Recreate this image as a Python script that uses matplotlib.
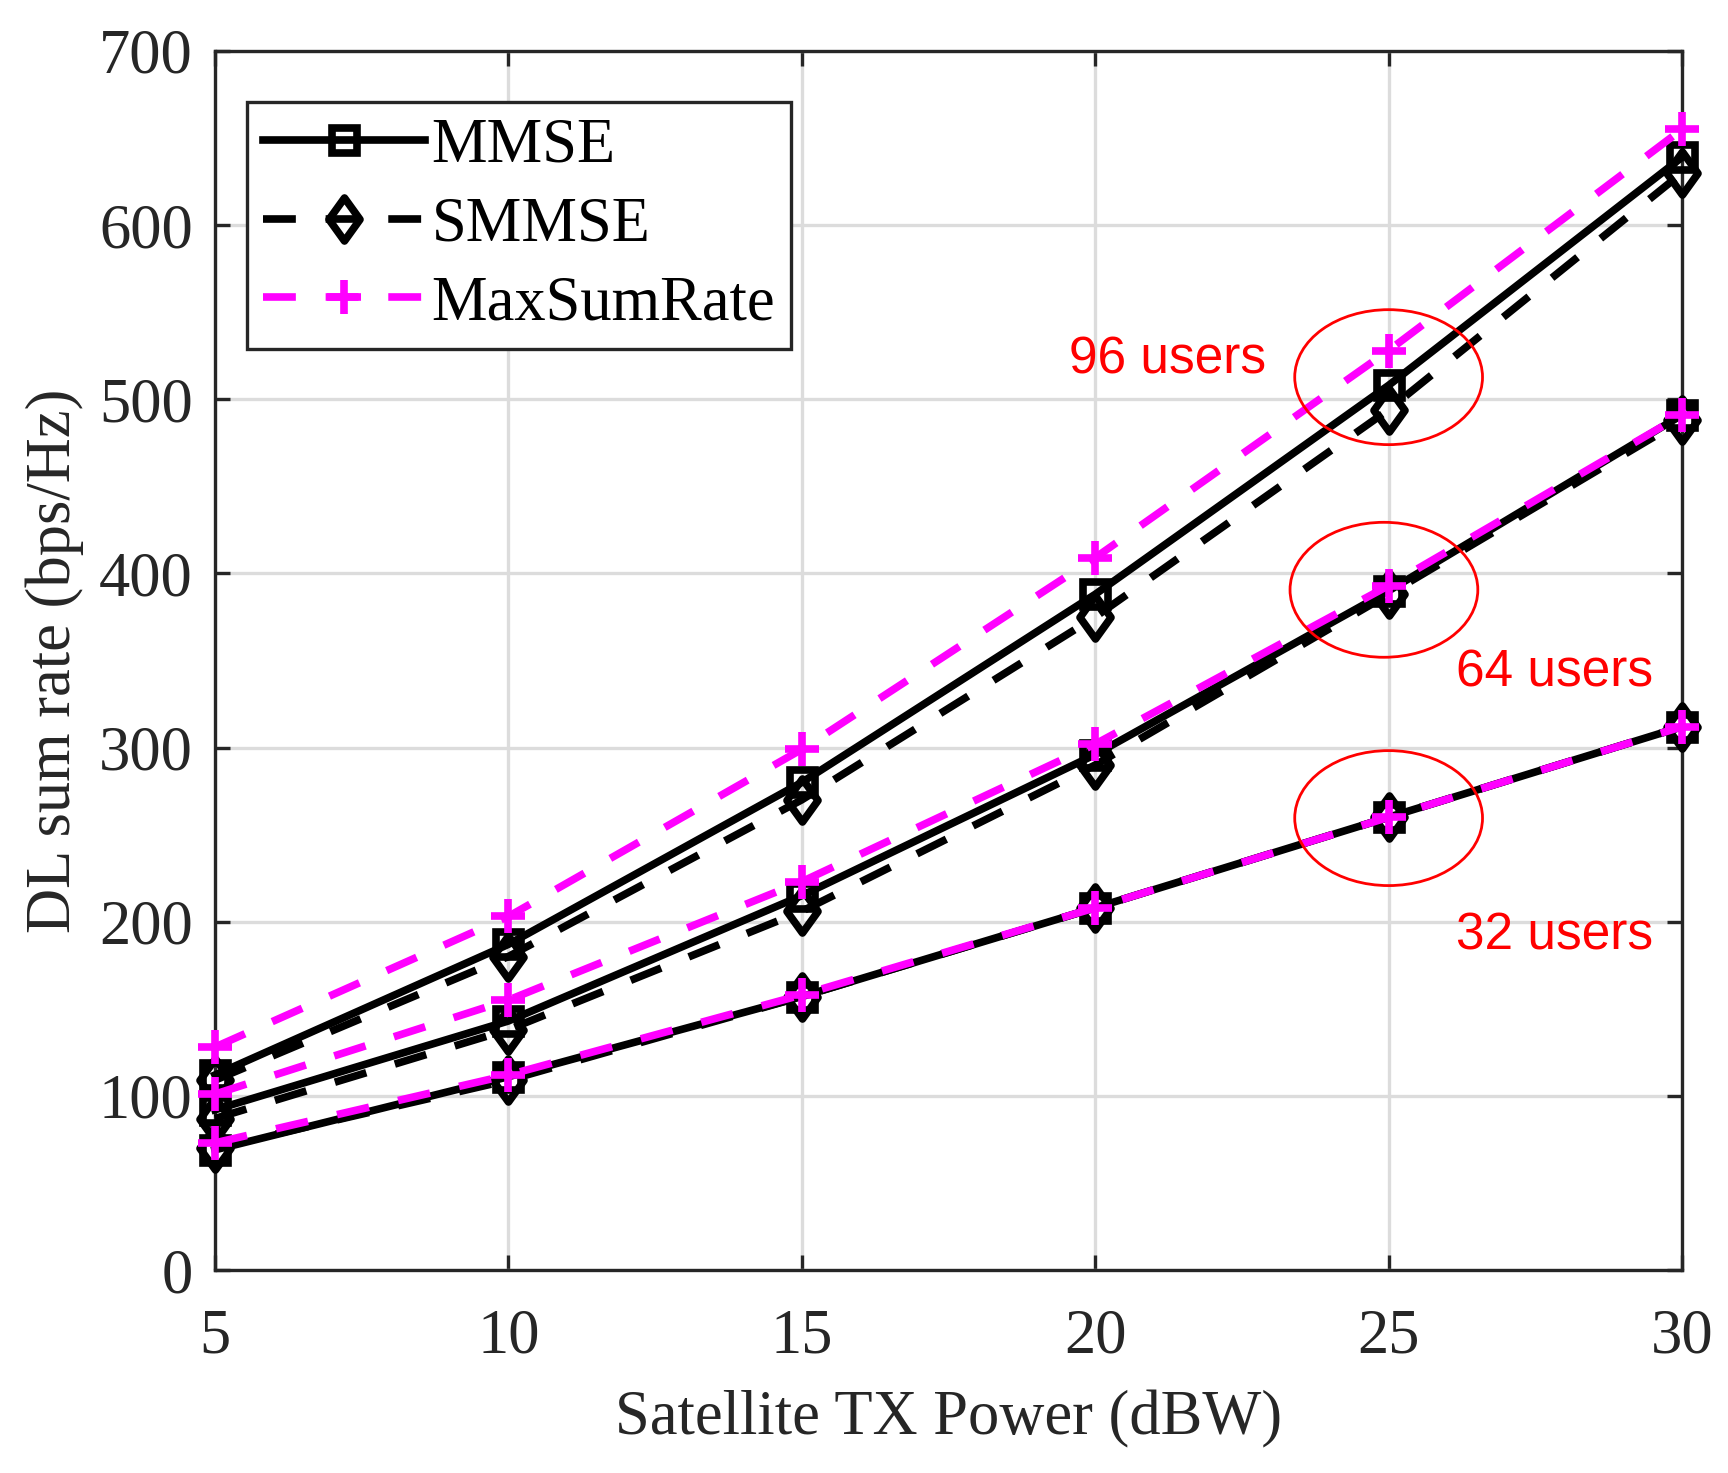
import numpy as np
import matplotlib
matplotlib.use('Agg')
import matplotlib.pyplot as plt
from matplotlib.patches import Ellipse
from matplotlib.path import Path

# Données
tx_power = [5, 10, 15, 20, 25, 30]

mmse_96 = [112, 187, 280, 388, 508, 639]
smmse_96 = [109, 180, 270, 375, 494, 630]
msr_96 = [128, 203, 299, 409, 528, 655]

mmse_64 = [92, 143, 215, 296, 390, 491]
smmse_64 = [87, 138, 206, 290, 388, 488]
msr_64 = [101, 155, 223, 302, 393, 491]

mmse_32 = [69, 111, 157, 208, 260, 312]
smmse_32 = [70, 109, 157, 208, 260, 312]
msr_32 = [73, 112, 158, 208, 260, 312]

legend_labels = ['MMSE', 'SMMSE', 'MaxSumRate']
user_labels = ['96 users', '64 users', '32 users']

SERIF = ['Liberation Serif', 'DejaVu Serif']
SANS = ['Liberation Sans', 'DejaVu Sans']
plt.rcParams['font.family'] = SERIF
plt.rcParams['lines.scale_dashes'] = True

LW = 5.5
MAGENTA = '#ff00ff'
AXCOL = '#262626'
diamond = Path([(0, 1), (0.72, 0), (0, -1), (-0.72, 0), (0, 1)],
               [Path.MOVETO, Path.LINETO, Path.LINETO, Path.LINETO, Path.CLOSEPOLY])
DASH = (4.3, 3.9)

fig = plt.figure(figsize=(17.28, 14.73), dpi=100)
ax = fig.add_axes([0.1244, 0.1378, 0.849, 0.8276])

groups = [(mmse_96, smmse_96, msr_96),
          (mmse_64, smmse_64, msr_64),
          (mmse_32, smmse_32, msr_32)]

for i, (mm, sm, ms) in enumerate(groups):
    ax.plot(tx_power, mm, color='k', lw=LW, marker='s', ms=18, mfc='none',
            mec='k', mew=LW, clip_on=False, zorder=3,
            label=legend_labels[0] if i == 0 else None)
    ax.plot(tx_power, sm, color='k', lw=LW, dashes=DASH, marker=diamond, ms=31,
            mfc='none', mec='k', mew=LW, clip_on=False, zorder=3,
            label=legend_labels[1] if i == 0 else None)
    ax.plot(tx_power, ms, color=MAGENTA, lw=LW, dashes=DASH, marker='+', ms=24,
            mec=MAGENTA, mew=LW, clip_on=False, zorder=4,
            label=legend_labels[2] if i == 0 else None)

# Ellipses rouges autour des points à 25 dBW
for (cx, cy) in [(25.0, 512.7), (24.92, 390.6), (25.0, 259.5)]:
    ax.add_patch(Ellipse((cx, cy), 3.2, 77.5, fill=False, ec='red', lw=2.0, zorder=5))

# Annotations
ax.text(19.56, 514.6, user_labels[0], color='red', fontsize=37, family=SANS,
        ha='left', va='baseline', zorder=6)
ax.text(26.15, 335, user_labels[1], color='red', fontsize=37, family=SANS,
        ha='left', va='baseline', zorder=6)
ax.text(26.15, 183.8, user_labels[2], color='red', fontsize=37, family=SANS,
        ha='left', va='baseline', zorder=6)

ax.set_xlim(5, 30)
ax.set_ylim(0, 700)
ax.set_xticks(tx_power)
ax.set_yticks(np.arange(0, 701, 100))
ax.grid(True, color='#dcdcdc', lw=2.4)
ax.set_axisbelow(True)

for sp in ax.spines.values():
    sp.set_color(AXCOL)
    sp.set_linewidth(2.4)
ax.tick_params(axis='both', direction='in', length=11, width=2.4, color=AXCOL,
               top=True, right=True, labelsize=45, labelcolor=AXCOL)
ax.tick_params(axis='x', pad=28)
ax.tick_params(axis='y', pad=16)

ax.set_xlabel('Satellite TX Power (dBW)', fontsize=45, color=AXCOL)
ax.set_ylabel('DL sum rate (bps/Hz)', fontsize=45, color=AXCOL)
ax.xaxis.set_label_coords(0.5, -0.099)
ax.yaxis.set_label_coords(-0.089, 0.5)

leg = ax.legend(loc='upper left', bbox_to_anchor=(0.022, 0.958), borderaxespad=0,
                fontsize=45, handlelength=2.6, handletextpad=0.1, borderpad=0.25,
                labelspacing=0.33, fancybox=False, framealpha=1, edgecolor=AXCOL)
leg.get_frame().set_linewidth(2.4)
for t in leg.get_texts():
    t.set_color('k')

fig.savefig('out.png', dpi=100)
